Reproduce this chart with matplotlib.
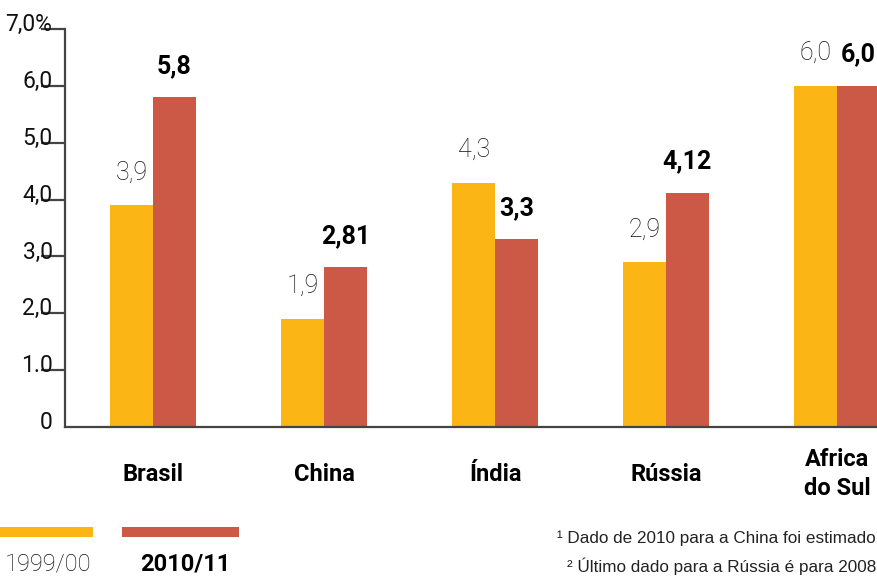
import matplotlib
matplotlib.use("Agg")
import matplotlib.pyplot as plt
from matplotlib.patches import Rectangle
import numpy as np

paises = ["Brasil", "China", "Índia", "Rússia", "Africa\ndo Sul"]
v_1999 = [3.9, 1.9, 4.3, 2.9, 6.0]
v_2010 = [5.8, 2.81, 3.3, 4.12, 6.0]
rot_1999 = ["3,9", "1,9", "4,3", "2,9", "6,0"]
rot_2010 = ["5,8", "2,81", "3,3", "4,12", "6,0"]
y_ticks = [0, 1, 2, 3, 4, 5, 6, 7]
y_rotulos = ["0", "1.0", "2,0", "3,0", "4,0", "5,0", "6,0", "7,0%"]

AMARELO = "#FBB615"
VERMELHO = "#CB5946"
CINZA = "#444444"
FONTE = ["Roboto", "DejaVu Sans"]

fig = plt.figure(figsize=(8.77, 5.77), dpi=100)
ax = fig.add_axes([65 / 877, 150 / 577, 812 / 877, 398 / 577])

x = np.arange(len(paises))
w = 0.25
b1 = ax.bar(x - w / 2, v_1999, w, color=AMARELO)
b2 = ax.bar(x + w / 2, v_2010, w, color=VERMELHO)

ax.set_xlim(-0.515, 4.234)
ax.set_ylim(0, 7)

for s in ["top", "right"]:
    ax.spines[s].set_visible(False)
for s in ["left", "bottom"]:
    ax.spines[s].set_color(CINZA)
    ax.spines[s].set_linewidth(1.6)

ax.set_xticks([])
ax.set_yticks(y_ticks[1:])
ax.tick_params(axis="y", length=17, width=1.6, color=CINZA, labelleft=False)

# rótulos do eixo y, apoiados sobre as marcas
for v, r in zip(y_ticks, y_rotulos):
    ax.annotate(r, xy=(0, v), xytext=(-9, -1.5), textcoords="offset points",
                xycoords=("axes fraction", "data"),
                ha="right", va="baseline", fontsize=16.5, family=FONTE,
                color="#111111")

# valores sobre as barras
for xi, v, r in zip(x - w / 2, v_1999, rot_1999):
    ax.annotate(r, xy=(xi, v), xytext=(0, 15), textcoords="offset points",
                ha="center", va="bottom", fontsize=18, family=FONTE,
                fontweight="light", color="#111111")
for xi, v, r in zip(x + w / 2, v_2010, rot_2010):
    ax.annotate(r, xy=(xi, v), xytext=(0, 14), textcoords="offset points",
                ha="center", va="bottom", fontsize=18, family=FONTE,
                fontweight="bold", color="black")

# nomes dos países
for xi, p in zip(x, paises):
    ax.annotate(p, xy=(xi, 0), xytext=(0, -34), textcoords="offset points",
                ha="center", va="center", fontsize=17, family=FONTE,
                fontweight="bold", linespacing=1.35)

# legenda
fig.add_artist(Rectangle((0, 40 / 577), 93 / 877, 10 / 577,
                         transform=fig.transFigure, color=AMARELO, lw=0))
fig.add_artist(Rectangle((122 / 877, 40 / 577), 117 / 877, 10 / 577,
                         transform=fig.transFigure, color=VERMELHO, lw=0))
fig.text(5 / 877, 13 / 577, "1999/00", fontsize=17, family=FONTE,
         fontweight="light", color="#111111", va="center", ha="left")
fig.text(140 / 877, 13 / 577, "2010/11", fontsize=17, family=FONTE,
         fontweight="bold", va="center", ha="left")

# notas
fig.text(876 / 877, 39 / 577, "¹ Dado de 2010 para a China foi estimado",
         fontsize=12.3, family=["Liberation Sans", "DejaVu Sans"],
         ha="right", va="center", color="#222222")
fig.text(876 / 877, 11 / 577, "² Último dado para a Rússia é para 2008",
         fontsize=12.3, family=["Liberation Sans", "DejaVu Sans"],
         ha="right", va="center", color="#222222")

fig.savefig("out.png", dpi=100)
